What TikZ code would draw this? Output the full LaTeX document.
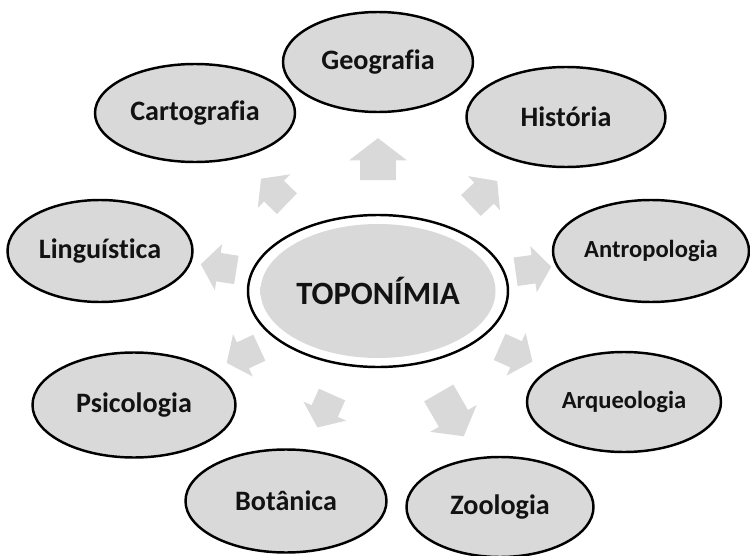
\documentclass[tikz,border=0pt]{standalone}
\usepackage{fontspec}
\setmainfont{Carlito}[Ligatures=NoCommon]
\usepackage{tikz}
\usetikzlibrary{shapes.geometric,shapes.arrows}
\definecolor{topicgray}{RGB}{217,217,217}
\definecolor{inkgray}{RGB}{18,18,18}
\pgfdeclareradialshading{softedge}{\pgfpoint{0bp}{0bp}}{%
  color(0bp)=(topicgray); color(30bp)=(topicgray); color(50bp)=(white)}

\begin{document}
\begin{tikzpicture}[
    topic/.style={ellipse, draw, line width=1.4pt, fill=topicgray, text=inkgray,
      font=\fontsize{16}{18}\selectfont\bfseries, inner sep=0pt},
    smalltopic/.style={topic, font=\fontsize{14}{16}\selectfont\bfseries},
    hub/.style={ellipse, draw, line width=1.4pt, fill=white, text=inkgray,
      font=\fontsize{18.5}{21}\selectfont\bfseries, inner sep=0pt,
      minimum width=5.2cm, minimum height=3.04cm,
      path picture={\shade[shading=softedge] (path picture bounding box.center)
        ellipse [x radius=2.35cm, y radius=1.34cm];}},
    blockarr/.style={single arrow, fill=topicgray, draw=none, inner xsep=0pt,
      inner ysep=0.28cm, single arrow head extend=0.18cm,
      single arrow tip angle=105, minimum height=0.72cm, minimum width=0pt}
  ]
  \useasboundingbox (0,0) rectangle (15,11.1);

  % Central node
  \node[hub] (topo) at (7.56,5.28) {TOPONÍMIA};

  % Surrounding disciplines
  \node[topic, minimum width=3.8cm, minimum height=2.0cm] (geo) at (7.56,9.86) {Geografia};
  \node[topic, minimum width=4.0cm, minimum height=1.96cm] (carto) at (3.9,8.84) {Cartografia};
  \node[topic, minimum width=3.98cm, minimum height=2.0cm] (hist) at (11.32,8.76) {História};
  \node[topic, minimum width=3.7cm, minimum height=2.04cm] (ling) at (2.0,6.08) {Linguística};
  \node[smalltopic, minimum width=3.92cm, minimum height=2.04cm] (antro) at (13.02,6.08) {Antropologia};
  \node[topic, minimum width=4.06cm, minimum height=2.1cm] (psico) at (2.68,3.0) {Psicologia};
  \node[smalltopic, minimum width=3.88cm, minimum height=2.0cm] (arqueo) at (12.48,3.06) {Arqueologia};
  \node[topic, minimum width=4.02cm, minimum height=2.06cm] (bota) at (5.72,1.08) {Botânica};
  \node[topic, minimum width=3.74cm, minimum height=2.0cm] (zoo) at (10.0,0.96) {Zoologia};

  % Block arrows pointing outwards
  \node[blockarr, rotate=90, inner ysep=0.35cm, single arrow head extend=0.22cm,
    minimum height=0.84cm] (aGeo) at (7.56,7.78) {};
  \node[blockarr, rotate=136] (aCarto) at (5.56,7.2) {};
  \node[blockarr, rotate=43] (aHist) at (9.6,7.16) {};
  \node[blockarr, rotate=171] (aLing) at (4.48,5.74) {};
  \node[blockarr, rotate=8] (aAntro) at (10.56,5.7) {};
  \node[blockarr, rotate=205] (aPsico) at (4.96,4.04) {};
  \node[blockarr, rotate=-24] (aArqueo) at (10.22,4.06) {};
  \node[blockarr, rotate=246] (aBota) at (6.54,2.98) {};
  \node[blockarr, rotate=-60, inner ysep=0.33cm, single arrow head extend=0.2cm,
    minimum height=1.0cm] (aZoo) at (8.96,2.92) {};
\end{tikzpicture}
\end{document}
